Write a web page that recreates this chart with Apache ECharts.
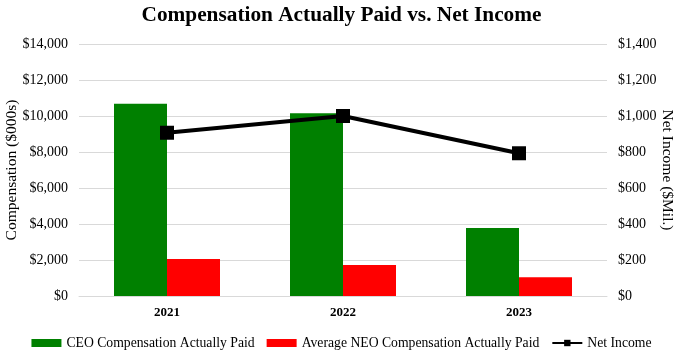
<!DOCTYPE html>
<html>
<head>
<meta charset="utf-8">
<script src="https://cdn.jsdelivr.net/npm/echarts@6/dist/echarts.min.js"></script>
<style>html,body{margin:0;padding:0;background:#fff;}#c{width:683px;height:358px;}</style>
</head>
<body>
<div id="c"></div>
<script>
var years = ['2021', '2022', '2023'];
var ceoPay = [10680, 10150, 3780];
var neoPay = [2050, 1720, 1040];
var netIncome = [907, 1000, 793];
var leftTicks = {min: 0, max: 14000, interval: 2000};
var rightTicks = {min: 0, max: 1400, interval: 200};

var serif = '"Liberation Serif", "DejaVu Serif", serif';
function money(v){ return '$' + v.toLocaleString('en-US'); }

var chart = echarts.init(document.getElementById('c'));
chart.setOption({
  animation: false,
  textStyle: {fontFamily: serif},
  title: {
    text: 'Compensation Actually Paid vs. Net Income',
    left: 'center', top: 0,
    textStyle: {fontFamily: serif, fontSize: 21.3, fontWeight: 'bold', color: '#000'}
  },
  legend: {
    bottom: 3, left: 'center',
    itemWidth: 30, itemHeight: 8, itemGap: 12,
    textStyle: {fontFamily: serif, fontSize: 13.7, color: '#000'},
    data: [
      {name: 'CEO Compensation Actually Paid', icon: 'rect'},
      {name: 'Average NEO Compensation Actually Paid', icon: 'rect'},
      {name: 'Net Income'}
    ]
  },
  grid: {left: 79, right: 76, top: 44, bottom: 62, outerBoundsMode: 'none', containLabel: false},
  xAxis: {
    type: 'category', data: years,
    axisTick: {show: false},
    axisLine: {lineStyle: {color: '#d9d9d9'}},
    axisLabel: {fontFamily: serif, fontSize: 13, fontWeight: 'bold', color: '#000', margin: 10}
  },
  yAxis: [
    {
      type: 'value', min: leftTicks.min, max: leftTicks.max, interval: leftTicks.interval,
      name: 'Compensation ($000s)', nameLocation: 'middle', nameGap: 59, nameMoveOverlap: false,
      nameTextStyle: {fontFamily: serif, fontSize: 15.5, color: '#000'},
      axisLabel: {formatter: money, fontFamily: serif, fontSize: 14, color: '#000', margin: 11},
      splitLine: {lineStyle: {color: '#d9d9d9'}},
      axisLine: {show: false}, axisTick: {show: false}
    },
    {
      type: 'value', min: rightTicks.min, max: rightTicks.max, interval: rightTicks.interval,
      name: 'Net Income ($Mil.)', nameLocation: 'middle', nameGap: 52, nameRotate: -90, nameMoveOverlap: false,
      nameTextStyle: {fontFamily: serif, fontSize: 15.5, color: '#000'},
      axisLabel: {formatter: money, fontFamily: serif, fontSize: 14, color: '#000', margin: 11},
      splitLine: {show: false},
      axisLine: {show: false}, axisTick: {show: false}
    }
  ],
  series: [
    {
      name: 'CEO Compensation Actually Paid', type: 'bar', data: ceoPay,
      barWidth: 53, barGap: '0%',
      itemStyle: {color: '#008000'}
    },
    {
      name: 'Average NEO Compensation Actually Paid', type: 'bar', data: neoPay,
      barWidth: 53, barGap: '0%',
      itemStyle: {color: '#ff0000'}
    },
    {
      name: 'Net Income', type: 'line', yAxisIndex: 1, data: netIncome,
      symbol: 'rect', symbolSize: 14,
      lineStyle: {color: '#000', width: 4},
      itemStyle: {color: '#000'}
    }
  ]
});
</script>
</body>
</html>
